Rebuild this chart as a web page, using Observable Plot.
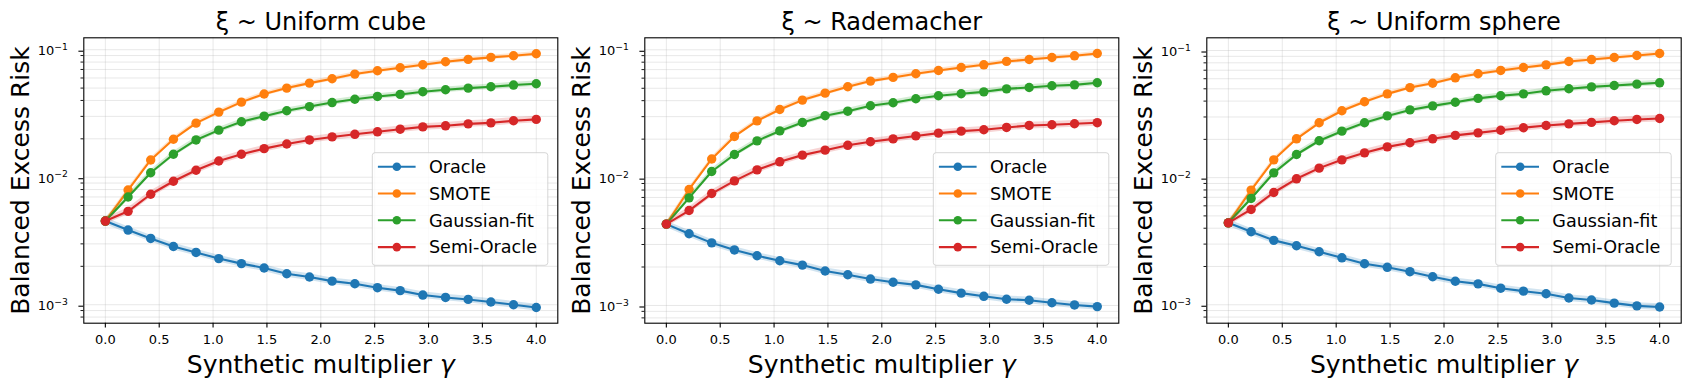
<!DOCTYPE html>
<html><head><meta charset="utf-8">
<script src="https://cdn.jsdelivr.net/npm/d3@7"></script>
<script src="https://cdn.jsdelivr.net/npm/@observablehq/plot@0.6"></script>
<style>
body{margin:0;background:#fff}
#wrap{position:relative;width:1690px;height:390px;background:#fff}
.pn{position:absolute;top:0}
</style>
</head><body><div id="wrap"></div>
<script>
const gamma = [0.000, 0.211, 0.421, 0.632, 0.842, 1.053, 1.263, 1.474, 1.684, 1.895, 2.105, 2.316, 2.526, 2.737, 2.947, 3.158, 3.368, 3.579, 3.789, 4.000];
const methods = ["Oracle", "SMOTE", "Gaussian-fit", "Semi-Oracle"];
const colors = ["#1f77b4", "#ff7f0e", "#2ca02c", "#d62728"];
const bandWidth = [0.06, 0.04, 0.05, 0.06];
const titles = ["ξ ~ Uniform cube", "ξ ~ Rademacher", "ξ ~ Uniform sphere"];
const xLabelText = "Synthetic multiplier ";
const xLabelSymbol = "γ";
const yLabelText = "Balanced Excess Risk";
const xTicks = [0, 0.5, 1, 1.5, 2, 2.5, 3, 3.5, 4];
const yMajorTicks = [0.001, 0.01, 0.1];
const yMajorBase = ["10", "10", "10"];
const yMajorExp = ["−3", "−2", "−1"];
const yMinorTicks = [0.0008, 0.0009, 0.002, 0.003, 0.004, 0.005, 0.006, 0.007, 0.008, 0.009,
  0.02, 0.03, 0.04, 0.05, 0.06, 0.07, 0.08, 0.09];

// Panel 1: Uniform cube
const cubeOracle = [0.00453, 0.00385, 0.00331, 0.00286, 0.00257, 0.00230, 0.00210, 0.00194, 0.00175, 0.00165, 0.00153, 0.00146, 0.00136, 0.00129, 0.00119, 0.00114, 0.00110, 0.00105, 0.00100, 0.00095];
const cubeSmote = [0.00453, 0.00793, 0.01365, 0.01986, 0.02654, 0.0324, 0.0388, 0.0449, 0.0500, 0.0547, 0.0592, 0.0644, 0.0684, 0.0722, 0.0762, 0.0805, 0.0840, 0.0871, 0.0897, 0.0930];
const cubeGauss = [0.00453, 0.00699, 0.01084, 0.01513, 0.0196, 0.0234, 0.0272, 0.0301, 0.0332, 0.0358, 0.0385, 0.0409, 0.0430, 0.0446, 0.0468, 0.0485, 0.0500, 0.0512, 0.0528, 0.0541];
const cubeSemi = [0.00453, 0.00540, 0.00735, 0.00929, 0.01133, 0.01339, 0.01513, 0.01675, 0.01823, 0.0196, 0.0207, 0.0217, 0.0227, 0.0238, 0.0248, 0.0253, 0.0262, 0.0267, 0.0277, 0.0284];

// Panel 2: Rademacher
const radOracle = [0.00433, 0.00364, 0.00309, 0.00272, 0.00245, 0.00224, 0.00207, 0.00186, 0.00174, 0.00161, 0.00152, 0.00145, 0.00134, 0.00125, 0.00118, 0.00112, 0.00110, 0.00105, 0.00101, 0.00098];
const radSmote = [0.00433, 0.00808, 0.0140, 0.0210, 0.0278, 0.0341, 0.0404, 0.0458, 0.0514, 0.0569, 0.0608, 0.0649, 0.0689, 0.0727, 0.0763, 0.0811, 0.0840, 0.0871, 0.0897, 0.0936];
const radGauss = [0.00433, 0.00695, 0.01117, 0.01517, 0.0194, 0.0232, 0.0270, 0.0305, 0.0331, 0.0365, 0.0385, 0.0414, 0.0437, 0.0453, 0.0469, 0.0495, 0.0507, 0.0523, 0.0532, 0.0552];
const radSemi = [0.00433, 0.00553, 0.00751, 0.00944, 0.01151, 0.01330, 0.0150, 0.0164, 0.0179, 0.0191, 0.0201, 0.0212, 0.0223, 0.0231, 0.0237, 0.0247, 0.0256, 0.0259, 0.0264, 0.0269];

// Panel 3: Uniform sphere
const sphOracle = [0.00441, 0.00375, 0.00321, 0.00291, 0.00261, 0.00234, 0.00210, 0.00197, 0.00182, 0.00166, 0.00153, 0.00146, 0.00135, 0.00128, 0.00122, 0.00113, 0.00109, 0.00103, 0.00098, 0.00096];
const sphSmote = [0.00441, 0.00798, 0.0138, 0.0202, 0.0270, 0.0336, 0.0395, 0.0456, 0.0511, 0.0553, 0.0610, 0.0656, 0.0697, 0.0735, 0.0771, 0.0819, 0.0849, 0.0881, 0.0913, 0.0947];
const sphGauss = [0.00441, 0.00686, 0.01091, 0.01521, 0.0195, 0.0232, 0.0270, 0.0306, 0.0341, 0.0367, 0.0392, 0.0420, 0.0441, 0.0456, 0.0482, 0.0500, 0.0518, 0.0531, 0.0544, 0.0557];
const sphSemi = [0.00441, 0.00562, 0.00764, 0.00979, 0.01188, 0.0138, 0.01567, 0.01746, 0.0188, 0.0202, 0.0215, 0.0225, 0.0236, 0.0247, 0.0257, 0.0265, 0.0272, 0.0280, 0.0287, 0.0292];

const panelSeries = [
  [cubeOracle, cubeSmote, cubeGauss, cubeSemi],
  [radOracle, radSmote, radGauss, radSemi],
  [sphOracle, sphSmote, sphGauss, sphSemi]
];

const layout = [
  {left: 0, width: 563, ml: 83.3, mr: 5.7, yd: [0.000716, 0.1240]},
  {left: 563, width: 562, ml: 81.3, mr: 6.7, yd: [0.000727, 0.1241]},
  {left: 1125, width: 565, ml: 81.3, mr: 9.3, yd: [0.000716, 0.1259]}
];
const MT = 37.3, MB = 67.3, H = 390;
const FONT = "DejaVu Sans";
const SVGNS = "http://www.w3.org/2000/svg";
const gridStyle = {stroke: "#b0b0b0", strokeOpacity: 0.33, strokeWidth: 0.9};

function makePanel(p) {
  const L = layout[p];
  const series = panelSeries[p];
  const marks = [
    Plot.gridX(xTicks, gridStyle),
    Plot.gridY(yMajorTicks.concat(yMinorTicks), gridStyle)
  ];
  methods.forEach((m, k) => {
    const rows = series[k].map((v, i) => ({g: gamma[i], v, lo: v * (1 - bandWidth[k]), hi: v * (1 + bandWidth[k])}));
    marks.push(Plot.areaY(rows, {x: "g", y1: "lo", y2: "hi", fill: colors[k], fillOpacity: 0.2}));
    marks.push(Plot.line(rows, {x: "g", y: "v", stroke: colors[k], strokeWidth: 2.1}));
    marks.push(Plot.dot(rows, {x: "g", y: "v", fill: colors[k], r: 4.7}));
  });
  marks.push(
    Plot.frame({stroke: "black", strokeWidth: 1.1}),
    Plot.axisX(xTicks, {tickSize: 4.9, tickPadding: 7, tickFormat: d3.format(".1f"), fontSize: 13, strokeWidth: 1.1, label: null}),
    Plot.axisY(yMajorTicks, {tickSize: 4.9, tickPadding: 11, tickFormat: d => String(yMajorTicks.indexOf(d)), fontSize: 13, strokeWidth: 1.1, label: null, dy: 1.5, className: "ymaj"}),
    Plot.axisY(yMinorTicks, {tickSize: 2.8, tickFormat: () => "", strokeWidth: 0.9, label: null}),
    Plot.text([titles[p]], {frameAnchor: "top", dy: -8, lineAnchor: "bottom", fontSize: 24, fill: "black"}),
    Plot.text([yLabelText], {frameAnchor: "left", dx: -62.6, rotate: -90, lineAnchor: "middle", textAnchor: "middle", fontSize: 25, fill: "black"}),
    Plot.text([xLabelText + xLabelSymbol], {frameAnchor: "bottom", dy: 49.6, lineAnchor: "bottom", fontSize: 25, fill: "black", className: "xlab"})
  );
  const svg = Plot.plot({
    width: L.width, height: H,
    marginLeft: L.ml, marginRight: L.mr, marginTop: MT, marginBottom: MB,
    style: {fontFamily: FONT, background: "white", color: "black", overflow: "visible"},
    x: {domain: [-0.2, 4.2]},
    y: {type: "log", domain: L.yd},
    marks
  });
  // italic gamma in x label (as matplotlib mathtext)
  const t = svg.querySelector(".xlab text");
  if (t) {
    t.textContent = "";
    const a = document.createElementNS(SVGNS, "tspan");
    a.textContent = xLabelText;
    const b = document.createElementNS(SVGNS, "tspan");
    b.textContent = xLabelSymbol;
    b.setAttribute("font-style", "italic");
    t.appendChild(a); t.appendChild(b);
  }
  // y tick labels: 10 with superscript exponent
  svg.querySelectorAll(".ymaj text").forEach(el => {
    const idx = +el.textContent;
    if (!(idx >= 0)) return;
    el.textContent = "";
    const a = document.createElementNS(SVGNS, "tspan");
    a.textContent = yMajorBase[idx];
    const b = document.createElementNS(SVGNS, "tspan");
    b.textContent = yMajorExp[idx];
    b.setAttribute("font-size", "9.2");
    b.setAttribute("dy", "-5.5");
    el.appendChild(a); el.appendChild(b);
  });
  // legend inside axes, as in the reference
  const axRight = L.width - L.mr;
  const bw = 175.5, bh = 112.6;
  const bx = axRight - 9.5 - bw, by = 152.7;
  const g = d3.select(svg).append("g").attr("font-family", FONT).attr("text-anchor", "start");
  g.append("rect").attr("x", bx).attr("y", by).attr("width", bw).attr("height", bh).attr("rx", 2.8)
    .attr("fill", "white").attr("fill-opacity", 0.8).attr("stroke", "#cccccc").attr("stroke-opacity", 0.8).attr("stroke-width", 1);
  methods.forEach((m, k) => {
    const yy = by + 14 + k * 26.8;
    g.append("line").attr("x1", bx + 5.6).attr("x2", bx + 43.3).attr("y1", yy).attr("y2", yy)
      .attr("stroke", colors[k]).attr("stroke-width", 2.1);
    g.append("circle").attr("cx", bx + 24.5).attr("cy", yy).attr("r", 4.3).attr("fill", colors[k]);
    g.append("text").attr("x", bx + 56.6).attr("y", yy).attr("dy", "0.36em").attr("font-size", 17.6)
      .attr("text-anchor", "start").attr("fill", "black").text(m);
  });
  const div = document.createElement("div");
  div.className = "pn";
  div.style.left = L.left + "px";
  div.appendChild(svg);
  document.getElementById("wrap").appendChild(div);
}
[0, 1, 2].forEach(makePanel);
</script>
</body></html>
